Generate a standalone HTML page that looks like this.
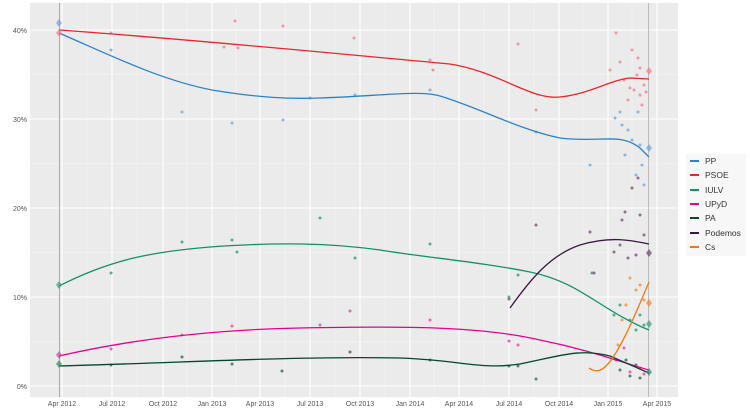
<!DOCTYPE html>
<html><head><meta charset="utf-8"><style>
body{margin:0;background:#fff;}
svg{display:block;font-family:"Liberation Sans",sans-serif;}
</style></head><body>
<svg width="750" height="417" viewBox="0 0 750 417">
<rect x="30" y="3" width="648" height="394" fill="#ebebeb"/>
<g stroke="#f5f5f5" stroke-width="0.6">
<line x1="30" x2="678" y1="341.5" y2="341.5"/><line x1="30" x2="678" y1="252.5" y2="252.5"/><line x1="30" x2="678" y1="163.5" y2="163.5"/><line x1="30" x2="678" y1="74.5" y2="74.5"/>
<line x1="87" x2="87" y1="3" y2="397"/><line x1="137" x2="137" y1="3" y2="397"/><line x1="187" x2="187" y1="3" y2="397"/><line x1="236" x2="236" y1="3" y2="397"/><line x1="285" x2="285" y1="3" y2="397"/><line x1="335" x2="335" y1="3" y2="397"/><line x1="385" x2="385" y1="3" y2="397"/><line x1="434" x2="434" y1="3" y2="397"/><line x1="484" x2="484" y1="3" y2="397"/><line x1="534" x2="534" y1="3" y2="397"/><line x1="583" x2="583" y1="3" y2="397"/><line x1="632" x2="632" y1="3" y2="397"/>
</g>
<g stroke="#fff" stroke-width="1.1">
<line x1="30" x2="678" y1="386" y2="386"/><line x1="30" x2="678" y1="297" y2="297"/><line x1="30" x2="678" y1="208" y2="208"/><line x1="30" x2="678" y1="119" y2="119"/><line x1="30" x2="678" y1="30" y2="30"/>
<line x1="62" x2="62" y1="3" y2="397"/><line x1="112" x2="112" y1="3" y2="397"/><line x1="163" x2="163" y1="3" y2="397"/><line x1="212" x2="212" y1="3" y2="397"/><line x1="260" x2="260" y1="3" y2="397"/><line x1="310" x2="310" y1="3" y2="397"/><line x1="360" x2="360" y1="3" y2="397"/><line x1="410" x2="410" y1="3" y2="397"/><line x1="459" x2="459" y1="3" y2="397"/><line x1="509" x2="509" y1="3" y2="397"/><line x1="559" x2="559" y1="3" y2="397"/><line x1="608" x2="608" y1="3" y2="397"/><line x1="657" x2="657" y1="3" y2="397"/>
</g>
<line x1="59.5" x2="59.5" y1="3" y2="397" stroke="#aaa" stroke-width="1"/>
<line x1="648.5" x2="648.5" y1="3" y2="397" stroke="#bbb" stroke-width="1"/>
<g opacity="0.75">
<g fill="#f07a8a"><circle cx="111" cy="33" r="1.5"/><circle cx="235" cy="21" r="1.5"/><circle cx="224" cy="47" r="1.5"/><circle cx="238" cy="48" r="1.5"/><circle cx="283" cy="26" r="1.5"/><circle cx="354" cy="38" r="1.5"/><circle cx="430" cy="60" r="1.5"/><circle cx="433" cy="70" r="1.5"/><circle cx="518" cy="44" r="1.5"/><circle cx="536" cy="110" r="1.5"/><circle cx="616" cy="33" r="1.5"/><circle cx="620" cy="62" r="1.5"/><circle cx="632" cy="50" r="1.5"/><circle cx="638" cy="58" r="1.5"/><circle cx="640" cy="68" r="1.5"/><circle cx="634" cy="90" r="1.5"/><circle cx="640" cy="95" r="1.5"/><circle cx="644" cy="85" r="1.5"/><circle cx="628" cy="100" r="1.5"/><circle cx="642" cy="105" r="1.5"/><circle cx="624" cy="80" r="1.5"/><circle cx="637" cy="75" r="1.5"/><circle cx="610" cy="70" r="1.5"/><circle cx="630" cy="88" r="1.5"/><circle cx="646" cy="92" r="1.5"/></g>
<g fill="#6aa6d6"><circle cx="111" cy="50" r="1.5"/><circle cx="182" cy="112" r="1.5"/><circle cx="232" cy="123" r="1.5"/><circle cx="283" cy="120" r="1.5"/><circle cx="310" cy="98" r="1.5"/><circle cx="355" cy="95" r="1.5"/><circle cx="430" cy="90" r="1.5"/><circle cx="536" cy="132" r="1.5"/><circle cx="590" cy="165" r="1.5"/><circle cx="620" cy="112" r="1.5"/><circle cx="628" cy="130" r="1.5"/><circle cx="632" cy="140" r="1.5"/><circle cx="640" cy="145" r="1.5"/><circle cx="636" cy="175" r="1.5"/><circle cx="642" cy="165" r="1.5"/><circle cx="625" cy="155" r="1.5"/><circle cx="615" cy="118" r="1.5"/><circle cx="638" cy="112" r="1.5"/><circle cx="644" cy="185" r="1.5"/><circle cx="622" cy="125" r="1.5"/></g>
<g fill="#1f9a6f"><circle cx="111" cy="273" r="1.5"/><circle cx="182" cy="242" r="1.5"/><circle cx="232" cy="240" r="1.5"/><circle cx="237" cy="252" r="1.5"/><circle cx="320" cy="218" r="1.5"/><circle cx="355" cy="258" r="1.5"/><circle cx="430" cy="244" r="1.5"/><circle cx="509" cy="297" r="1.5"/><circle cx="518" cy="275" r="1.5"/><circle cx="592" cy="273" r="1.5"/><circle cx="620" cy="305" r="1.5"/><circle cx="630" cy="320" r="1.5"/><circle cx="640" cy="315" r="1.5"/><circle cx="636" cy="330" r="1.5"/><circle cx="644" cy="325" r="1.5"/><circle cx="614" cy="315" r="1.5"/></g>
<g fill="#e23aa0"><circle cx="111" cy="349" r="1.5"/><circle cx="182" cy="335" r="1.5"/><circle cx="232" cy="326" r="1.5"/><circle cx="320" cy="325" r="1.5"/><circle cx="350" cy="311" r="1.5"/><circle cx="430" cy="320" r="1.5"/><circle cx="509" cy="341" r="1.5"/><circle cx="518" cy="345" r="1.5"/><circle cx="616" cy="360" r="1.5"/><circle cx="630" cy="372" r="1.5"/><circle cx="640" cy="368" r="1.5"/><circle cx="644" cy="374" r="1.5"/><circle cx="624" cy="348" r="1.5"/></g>
<g fill="#2b5a4a"><circle cx="111" cy="365" r="1.5"/><circle cx="182" cy="357" r="1.5"/><circle cx="232" cy="364" r="1.5"/><circle cx="282" cy="371" r="1.5"/><circle cx="350" cy="352" r="1.5"/><circle cx="430" cy="360" r="1.5"/><circle cx="509" cy="366" r="1.5"/><circle cx="518" cy="366" r="1.5"/><circle cx="536" cy="379" r="1.5"/><circle cx="620" cy="370" r="1.5"/><circle cx="630" cy="376" r="1.5"/><circle cx="636" cy="365" r="1.5"/><circle cx="640" cy="378" r="1.5"/><circle cx="626" cy="360" r="1.5"/></g>
<g fill="#6a4a6a"><circle cx="536" cy="225" r="1.5"/><circle cx="509" cy="299" r="1.5"/><circle cx="590" cy="232" r="1.5"/><circle cx="594" cy="273" r="1.5"/><circle cx="614" cy="252" r="1.5"/><circle cx="620" cy="245" r="1.5"/><circle cx="628" cy="258" r="1.5"/><circle cx="636" cy="255" r="1.5"/><circle cx="640" cy="215" r="1.5"/><circle cx="625" cy="212" r="1.5"/><circle cx="632" cy="188" r="1.5"/><circle cx="638" cy="178" r="1.5"/><circle cx="622" cy="220" r="1.5"/><circle cx="644" cy="235" r="1.5"/></g>
<g fill="#f08a30"><circle cx="630" cy="278" r="1.5"/><circle cx="636" cy="290" r="1.5"/><circle cx="640" cy="285" r="1.5"/><circle cx="626" cy="305" r="1.5"/><circle cx="622" cy="320" r="1.5"/><circle cx="618" cy="345" r="1.5"/><circle cx="644" cy="300" r="1.5"/></g>
</g>
<g fill="none" stroke-width="1.3">
<path d="M59 33 C110 55 160 80 212 90 C260 98 290 99 320 98 C380 96 420 90 440 96 C480 108 520 130 560 138 C600 143 620 132 640 148 L649 157" stroke="#2b83c6"/>
<path d="M59 30 C200 40 350 55 450 64 C500 72 530 100 560 97 C590 94 610 80 630 78 L649 79" stroke="#e8262b"/>
<path d="M59 286 C110 260 150 252 210 247 C280 242 330 243 380 250 C430 258 480 262 530 272 C580 282 600 310 649 330" stroke="#11916a"/>
<path d="M59 356 C120 342 200 330 300 328 C400 326 480 326 540 340 C590 350 620 362 649 370" stroke="#e6008c"/>
<path d="M59 366 C200 362 300 356 400 358 C460 360 480 370 520 364 C560 356 580 348 610 356 L649 373" stroke="#00472d"/>
<path d="M510 308 C530 280 550 255 580 245 C610 236 630 240 649 244" stroke="#3b1840"/>
<path d="M589 368 C595 372 600 372 606 366 C620 352 635 315 649 282" stroke="#f07810"/>
</g>
<g opacity="0.7">
<path d="M59 19 l3 4 -3 4 -3 -4z" fill="#6aa6d6"/><path d="M59 29 l3 4 -3 4 -3 -4z" fill="#f07a8a"/>
<path d="M59 281 l3 4 -3 4 -3 -4z" fill="#3aa080"/><path d="M59 351 l3 4 -3 4 -3 -4z" fill="#e23aa0"/><path d="M59 360 l3 4 -3 4 -3 -4z" fill="#3a8a6a"/>
<path d="M649 67 l3 4 -3 4 -3 -4z" fill="#f07a8a"/><path d="M649 144 l3 4 -3 4 -3 -4z" fill="#6aa6d6"/>
<path d="M649 249 l3 4 -3 4 -3 -4z" fill="#6a4a6a"/><path d="M649 299 l3 4 -3 4 -3 -4z" fill="#f08a30"/>
<path d="M649 320 l3 4 -3 4 -3 -4z" fill="#3aa080"/><path d="M649 368 l3 4 -3 4 -3 -4z" fill="#3a8a6a"/>
</g>
<g font-size="7" fill="#555" text-anchor="end">
<text x="27" y="389">0%</text><text x="27" y="300">10%</text><text x="27" y="211">20%</text><text x="27" y="122">30%</text><text x="27" y="33">40%</text>
</g>
<g font-size="7" fill="#555" text-anchor="middle">
<text x="62" y="406">Apr 2012</text><text x="112" y="406">Jul 2012</text><text x="163" y="406">Oct 2012</text><text x="212" y="406">Jan 2013</text><text x="260" y="406">Apr 2013</text><text x="310" y="406">Jul 2013</text><text x="360" y="406">Oct 2013</text><text x="410" y="406">Jan 2014</text><text x="459" y="406">Apr 2014</text><text x="509" y="406">Jul 2014</text><text x="559" y="406">Oct 2014</text><text x="608" y="406">Jan 2015</text><text x="657" y="406">Apr 2015</text>
</g>
<rect x="686" y="154" width="60" height="102" fill="#f7f7f7"/>
<g stroke-width="2">
<line x1="690" x2="699" y1="161" y2="161" stroke="#2b83c6"/>
<line x1="690" x2="699" y1="175" y2="175" stroke="#e8262b"/>
<line x1="690" x2="699" y1="190" y2="190" stroke="#11916a"/>
<line x1="690" x2="699" y1="204" y2="204" stroke="#e6008c"/>
<line x1="690" x2="699" y1="218" y2="218" stroke="#00472d"/>
<line x1="690" x2="699" y1="233" y2="233" stroke="#3b1840"/>
<line x1="690" x2="699" y1="247" y2="247" stroke="#f07810"/>
</g>
<g font-size="8.5" fill="#333">
<text x="705" y="164">PP</text><text x="705" y="178">PSOE</text><text x="705" y="193">IULV</text><text x="705" y="207">UPyD</text><text x="705" y="221">PA</text><text x="705" y="236">Podemos</text><text x="705" y="250">Cs</text>
</g>
</svg>
</body></html>
